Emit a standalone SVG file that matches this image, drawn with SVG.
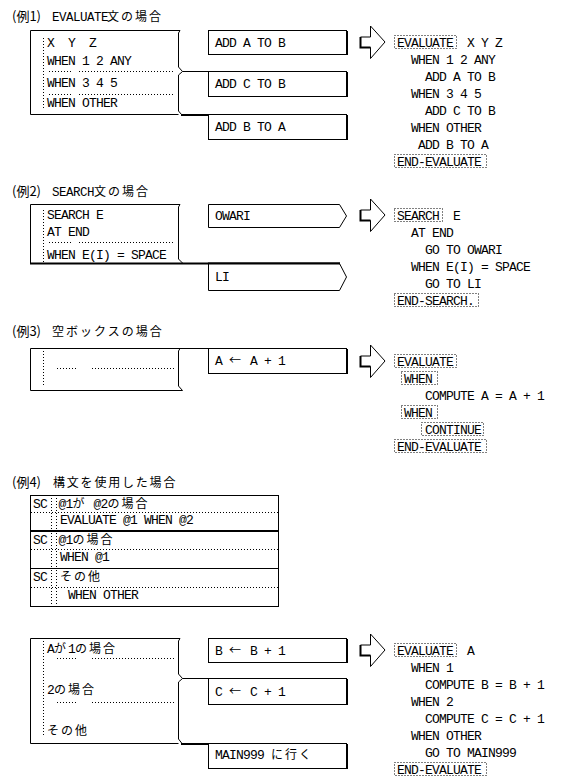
<svg xmlns="http://www.w3.org/2000/svg" xmlns:xlink="http://www.w3.org/1999/xlink" width="564" height="783" viewBox="0 0 564 783">
<style>
.ln{fill:none;stroke:#000;stroke-width:1}
.bx{fill:#fff;stroke:#000;stroke-width:1}
.th{fill:none;stroke:#000;stroke-width:2}
.dt{fill:none;stroke:#000;stroke-width:1;stroke-dasharray:1 2}
.m{font-family:"Liberation Mono","DejaVu Sans Mono",monospace;font-size:13px;letter-spacing:-0.8px;fill:#000}
.j{font-family:"Noto Sans CJK JP",sans-serif;font-size:12px;letter-spacing:2px}
.tt{font-family:"Noto Sans CJK JP",sans-serif;font-size:13px;fill:#000}
.tl{font-family:"Liberation Mono",monospace;font-size:12.5px;letter-spacing:-0.5px}
.tj{font-family:"Noto Sans CJK JP",sans-serif;font-size:12px;letter-spacing:2px}
</style>
<defs>
<g id="arr">
<path class="bx" d="M0,-5 H10 V-16 L24.5,0 L10,16.5 V5.5 H0 Z"/>
<path class="th" d="M0,-5 V5.5 H10"/>
</g>
</defs>

<!-- titles -->
<g id="titles">
<text class="tt" x="12" y="21">(例1)<tspan class="tl" x="52">EVALUATE</tspan><tspan class="tj" x="107">文の場合</tspan></text>
<text class="tt" x="12" y="196">(例2)<tspan class="tl" x="52">SEARCH</tspan><tspan class="tj" x="94">文の場合</tspan></text>
<text class="tt" x="12" y="336">(例3)<tspan class="tj" x="52">空ボックスの場合</tspan></text>
<text class="tt" x="12" y="487">(例4)<tspan class="tj" x="53" style="letter-spacing:1.8px">構文を使用した場合</tspan></text>
</g>

<!-- connectors: braces and links -->
<g id="connectors">
<path class="ln" d="M180,30.5 L178.5,33 V67 L182.5,71.5 L178.5,75 V111 L181.5,114.5"/>
<path class="ln" d="M182.5,71.5 H208.5"/>
<path class="th" d="M181,115 H208.5"/>
<path class="ln" d="M180,204.5 L178.5,207 V259 L182.5,263"/>
<path class="ln" d="M180,348.5 L178.5,351 V386 L182.5,390.5"/>
<path class="ln" d="M180,348.5 H208.5"/>
<path class="ln" d="M180,638.5 L178.5,641 V674 L182.5,678.5 L178.5,682 V739 L182,743.5"/>
<path class="ln" d="M182.5,678.5 H208.5"/>
<path class="th" d="M181,744 H208.5"/>
</g>

<!-- Example 1 -->
<g id="ex1-main">
<path class="ln" d="M180,30.5 H30.5 V114.5 H178.5"/>
<path class="dt" d="M43.5,38 V108"/>
<path class="dt" d="M49,71.5 H71 M79,71.5 H174 M49,94.5 H71 M79,94.5 H174"/>
<text class="m" x="47" y="46.5" xml:space="preserve">X  Y  Z</text>
<text class="m" x="47" y="65">WHEN 1 2 ANY</text>
<text class="m" x="47" y="86.5">WHEN 3 4 5</text>
<text class="m" x="47" y="106.5">WHEN OTHER</text>
</g>
<g id="ex1-b1">
<rect class="bx" x="208.5" y="30.5" width="138" height="24"/>
<path class="ln" d="M347.5,31 V55"/>
<text class="m" x="215" y="46.5">ADD A TO B</text>
</g>
<g id="ex1-b2">
<rect class="bx" x="208.5" y="71.5" width="138" height="25"/>
<path class="ln" d="M347.5,72 V97"/>
<text class="m" x="215" y="88">ADD C TO B</text>
</g>
<g id="ex1-b3">
<rect class="bx" x="208.5" y="114.5" width="138" height="25"/>
<path class="ln" d="M347.5,115 V140"/>
<text class="m" x="215" y="131">ADD B TO A</text>
</g>
<g id="ex1-arrow"><use xlink:href="#arr" x="360.5" y="42"/></g>
<g id="ex1-code">
<rect class="dt" x="394.5" y="35.5" width="62" height="13"/>
<rect class="dt" x="394.5" y="154.5" width="92" height="13"/>
<text class="m" x="397" y="46.5">EVALUATE</text>
<text class="m" x="467" y="46.5">X Y Z</text>
<text class="m" x="411" y="63.5">WHEN 1 2 ANY</text>
<text class="m" x="425" y="80.5">ADD A TO B</text>
<text class="m" x="411" y="97.5">WHEN 3 4 5</text>
<text class="m" x="425" y="114.5">ADD C TO B</text>
<text class="m" x="411" y="131.5">WHEN OTHER</text>
<text class="m" x="418" y="148.5">ADD B TO A</text>
<text class="m" x="397" y="165.5">END-EVALUATE</text>
</g>

<!-- Example 2 -->
<g id="ex2-main">
<path class="ln" d="M180,204.5 H30.5 V263"/>
<path class="th" d="M30,263.5 H340"/>
<path class="dt" d="M43.5,210 V263"/>
<path class="dt" d="M49,242.5 H71 M79,242.5 H174"/>
<text class="m" x="47" y="219">SEARCH E</text>
<text class="m" x="47" y="236">AT END</text>
<text class="m" x="47" y="258.5">WHEN E(I) = SPACE</text>
</g>
<g id="ex2-owari">
<path class="bx" d="M208.5,204.5 H339.5 L346.5,216 L339.5,227.5 H208.5 Z"/>
<text class="m" x="215" y="219.5">OWARI</text>
</g>
<g id="ex2-li">
<path class="bx" d="M208.5,263.5 H339.5 L346.5,277 L339.5,290.5 H208.5 Z"/>
<path class="th" d="M208,263.5 H340"/>
<text class="m" x="215" y="281">LI</text>
</g>
<g id="ex2-arrow"><use xlink:href="#arr" x="360.5" y="215"/></g>
<g id="ex2-code">
<rect class="dt" x="394.5" y="208.5" width="48" height="13"/>
<rect class="dt" x="394.5" y="293.5" width="84" height="13"/>
<text class="m" x="397" y="219.5">SEARCH</text>
<text class="m" x="453" y="219.5">E</text>
<text class="m" x="411" y="236.5">AT END</text>
<text class="m" x="425" y="253.5">GO TO OWARI</text>
<text class="m" x="411" y="270.5">WHEN E(I) = SPACE</text>
<text class="m" x="425" y="287.5">GO TO LI</text>
<text class="m" x="397" y="304.5">END-SEARCH.</text>
</g>

<!-- Example 3 -->
<g id="ex3-main">
<path class="ln" d="M180,348.5 H30.5 V390.5 H182.5"/>
<path class="dt" d="M43.5,351 V386"/>
<path class="dt" d="M57,368.5 H77 M92,368.5 H174"/>
</g>
<g id="ex3-b1">
<rect class="bx" x="208.5" y="348.5" width="138" height="25"/>
<path class="ln" d="M347.5,349 V374"/>
<text class="m" x="215" y="365">A <tspan class="j">←</tspan> A + 1</text>
</g>
<g id="ex3-arrow"><use xlink:href="#arr" x="360.5" y="361"/></g>
<g id="ex3-code">
<rect class="dt" x="394.5" y="354.5" width="62" height="13"/>
<rect class="dt" x="401.5" y="371.5" width="36" height="13"/>
<rect class="dt" x="401.5" y="405.5" width="36" height="13"/>
<rect class="dt" x="421.5" y="422.5" width="62" height="13"/>
<rect class="dt" x="394.5" y="439.5" width="92" height="13"/>
<text class="m" x="397" y="365.5">EVALUATE</text>
<text class="m" x="404" y="382.5">WHEN</text>
<text class="m" x="425" y="399.5">COMPUTE A = A + 1</text>
<text class="m" x="404" y="416.5">WHEN</text>
<text class="m" x="425" y="433.5">CONTINUE</text>
<text class="m" x="397" y="450.5">END-EVALUATE</text>
</g>

<!-- Example 4 -->
<g id="ex4-table">
<rect class="ln" x="30.5" y="495.5" width="248" height="111"/>
<path class="th" d="M30,531 H279"/>
<path class="ln" d="M30,568.5 H279"/>
<path class="dt" d="M31,512.5 H278 M31,549.5 H278 M31,587.5 H278"/>
<path class="dt" d="M51.5,498 V530 M56.5,498 V530 M51.5,533 V567 M56.5,533 V567 M51.5,570 V605 M56.5,570 V605"/>
</g>
<g id="ex4-row1">
<text class="m" x="33" y="508">SC</text>
<text class="m" x="58.5" y="508">@1<tspan class="j">が</tspan> @2<tspan class="j">の場合</tspan></text>
<text class="m" x="60" y="523.5">EVALUATE @1 WHEN @2</text>
</g>
<g id="ex4-row2">
<text class="m" x="33" y="544">SC</text>
<text class="m" x="58.5" y="544">@1<tspan class="j">の場合</tspan></text>
<text class="m" x="60" y="561">WHEN @1</text>
</g>
<g id="ex4-row3">
<text class="m" x="33" y="580.5">SC</text>
<text class="m" x="60" y="580.5"><tspan class="j">その他</tspan></text>
<text class="m" x="68" y="599">WHEN OTHER</text>
</g>

<!-- Example 5 -->
<g id="ex5-main">
<path class="ln" d="M180,638.5 H30.5 V743.5 H178.5"/>
<path class="dt" d="M43.5,641 V737"/>
<path class="dt" d="M57,658.5 H77 M92,658.5 H174 M57,702.5 H77 M92,702.5 H174"/>
<text class="m" x="47" y="653">A<tspan class="j">が</tspan>1<tspan class="j">の場合</tspan></text>
<text class="m" x="47" y="693.5">2<tspan class="j">の場合</tspan></text>
<text class="m" x="47" y="735"><tspan class="j">その他</tspan></text>
</g>
<g id="ex5-b1">
<rect class="bx" x="208.5" y="638.5" width="138" height="24"/>
<path class="ln" d="M347.5,639 V663"/>
<text class="m" x="215" y="655">B <tspan class="j">←</tspan> B + 1</text>
</g>
<g id="ex5-b2">
<rect class="bx" x="208.5" y="678.5" width="138" height="26"/>
<path class="ln" d="M347.5,679 V705"/>
<text class="m" x="215" y="696">C <tspan class="j">←</tspan> C + 1</text>
</g>
<g id="ex5-b3">
<rect class="bx" x="208.5" y="743.5" width="138" height="25"/>
<path class="ln" d="M347.5,744 V769"/>
<text class="m" x="215" y="759">MAIN999 <tspan class="j">に行く</tspan></text>
</g>
<g id="ex5-arrow"><use xlink:href="#arr" x="360.5" y="650"/></g>
<g id="ex5-code">
<rect class="dt" x="394.5" y="643.5" width="62" height="13"/>
<rect class="dt" x="394.5" y="762.5" width="92" height="13"/>
<text class="m" x="397" y="654.5">EVALUATE</text>
<text class="m" x="467" y="654.5">A</text>
<text class="m" x="411" y="671.5">WHEN 1</text>
<text class="m" x="425" y="688.5">COMPUTE B = B + 1</text>
<text class="m" x="411" y="705.5">WHEN 2</text>
<text class="m" x="425" y="722.5">COMPUTE C = C + 1</text>
<text class="m" x="411" y="739.5">WHEN OTHER</text>
<text class="m" x="425" y="756.5">GO TO MAIN999</text>
<text class="m" x="397" y="773.5">END-EVALUATE</text>
</g>
</svg>
